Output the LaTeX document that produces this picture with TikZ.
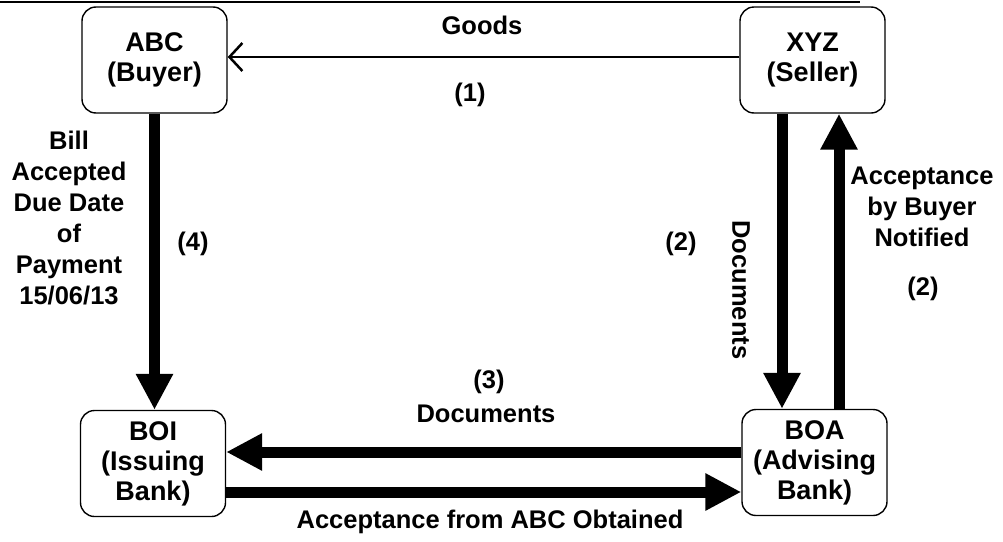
\documentclass[tikz,border=0pt]{standalone}
\usepackage{fontspec}
\setmainfont{Liberation Sans}
\usetikzlibrary{arrows.meta}

\begin{document}
\begin{tikzpicture}[x=1pt,y=-1pt,
  party/.style={draw, line width=1.4pt, rounded corners=14pt,
    minimum width=145pt, minimum height=106pt, align=center, inner sep=0pt,
    font=\fontsize{27}{30}\selectfont\bfseries},
  lbl/.style={align=center, inner sep=0pt,
    font=\fontsize{25.5}{31}\selectfont\bfseries},
  heavy/.style={line width=11pt, -{Triangle[length=36pt,width=35pt]}},
  thinarrow/.style={line width=2.5pt,
    -{Straight Barb[length=13pt,width=28pt,line width=2.5pt]}}]

\useasboundingbox (0,0) rectangle (1003,541);

% rule across the top edge
\coordinate (ruleL) at (0,2);
\coordinate (ruleR) at (860,2);
\draw[line width=1.2pt] (ruleL) -- (ruleR);

% parties
\node[party] (abc) at (154.5,60) {ABC\\(Buyer)};
\node[party] (xyz) at (812.5,60) {XYZ\\(Seller)};
\node[party] (boi) at (153,463.5) {BOI\\(Issuing\\Bank)};
\node[party] (boa) at (814.5,462.5) {BOA\\(Advising\\Bank)};

% (1) goods
\draw[thinarrow] ([yshift=3pt]xyz.west) -- ([yshift=3pt]abc.east);
% (4) bill accepted
\draw[heavy] (abc.south) -- (abc.south |- boi.north);
% (2) documents and acceptance notice
\draw[heavy] ([xshift=-30.5pt]xyz.south) -- ([xshift=-30.5pt]xyz.south |- boa.north);
\draw[heavy] ([xshift=26.5pt]xyz.south |- boa.north) -- ([xshift=26.5pt]xyz.south);
% (3) documents and acceptance
\draw[heavy] ([yshift=10.5pt]boa.west) -- ([yshift=10.5pt]boa.west -| boi.east);
\draw[heavy] ([yshift=-28.5pt]boi.east) -- ([yshift=-28.5pt]boi.east -| boa.west);

% labels
\node[lbl] (goods) at (482,25) {Goods};
\node[lbl] (one) at (470,95) {(1)};
\node[lbl] (bill) at (69,218) {Bill\\Accepted\\Due Date\\of\\Payment\\15/06/13};
\node[lbl] (four) at (193,244) {(4)};
\node[lbl] (twoL) at (681,244) {(2)};
\node[lbl, rotate=-90] (docsV) at (741,290) {Documents};
\node[lbl] (notified) at (922,207) {Acceptance\\by Buyer\\Notified};
\node[lbl] (twoR) at (923,289) {(2)};
\node[lbl] (three) at (489,382) {(3)};
\node[lbl] (docsH) at (486,414) {Documents};
\node[lbl] (obtained) at (490,522) {Acceptance from ABC Obtained};
\end{tikzpicture}
\end{document}
